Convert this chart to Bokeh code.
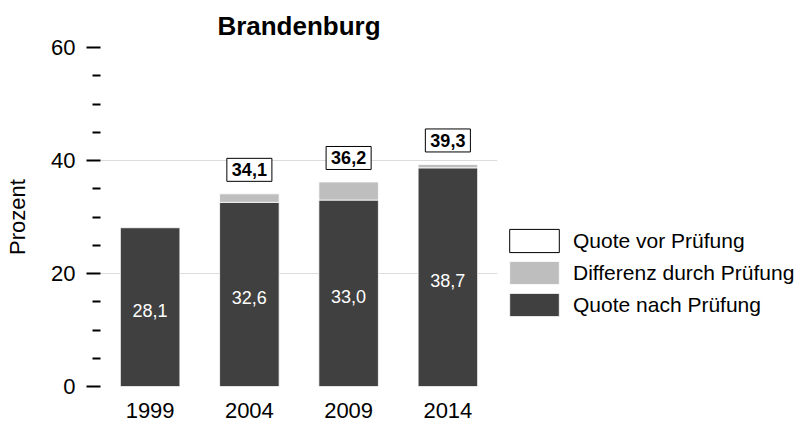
from bokeh.plotting import figure
from bokeh.models import (ColumnDataSource, LabelSet, Legend, LegendItem,
                          FixedTicker, Range1d, FactorRange)
from bokeh.core.properties import value
from bokeh.embed import file_html
from bokeh.resources import INLINE
import math

# ---- data ----
years = ["1999", "2004", "2009", "2014"]
quote_nach = [28.1, 32.6, 33.0, 38.7]          # Quote nach Prüfung
quote_vor = [float("nan"), 34.1, 36.2, 39.3]   # Quote vor Prüfung
y_major = [0, 20, 40, 60]
y_minor = [5, 10, 15, 25, 30, 35, 45, 50, 55]

DARK = "#404040"
GRAY = "#bebebe"
FONT = "Liberation Sans"

def fmt(v):
    return f"{v:.1f}".replace(".", ",")

src_nach = ColumnDataSource(dict(
    x=years, top=quote_nach,
    mid=[v / 2 for v in quote_nach],
    txt=[fmt(v) for v in quote_nach]))

idx = [i for i, v in enumerate(quote_vor) if not math.isnan(v)]
src_diff = ColumnDataSource(dict(
    x=[years[i] for i in idx],
    bottom=[quote_nach[i] for i in idx],
    top=[quote_vor[i] for i in idx],
    txt=[fmt(quote_vor[i]) for i in idx]))

p = figure(x_range=FactorRange(*years), y_range=Range1d(0, 60),
           frame_width=397, frame_height=339,
           min_border_left=100, min_border_top=47, min_border_bottom=42,
           min_border_right=293,
           output_backend="svg", toolbar_location=None,
           title="Brandenburg")
p.outline_line_color = None
p.background_fill_color = "white"
p.border_fill_color = "white"

p.title.text_font = FONT
p.title.text_font_size = "26px"
p.title.text_font_style = "bold"
p.title.align = "center"
p.title.text_color = "black"
p.title.standoff = 13

r_nach = p.vbar(x="x", top="top", bottom=0, width=0.6, source=src_nach,
                fill_color=DARK, line_color="white", line_width=0.8)
r_diff = p.vbar(x="x", top="top", bottom="bottom", width=0.6, source=src_diff,
                fill_color=GRAY, line_color="white", line_width=0.8)
# legend swatch for "Quote vor Prüfung" (white box, black border); not drawn in plot
r_vor = p.vbar(x="x", top="top", bottom="bottom", width=0.6, source=src_diff,
               fill_color="white", line_color="black", line_width=1,
               visible=False)

inner = LabelSet(x="x", y="mid", text="txt", source=src_nach,
                 text_align="center", text_baseline="middle", y_offset=-3,
                 text_color="white", text_font=value(FONT),
                 text_font_size="18px")
p.add_layout(inner)

p.text(x="x", y="top", text="txt", source=src_diff,
       text_align="center", text_baseline="middle", y_offset=-24,
       text_color="black", text_font=value(FONT), text_font_size="18px",
       text_font_style="bold",
       border_line_color="black", border_line_width=1,
       background_fill_color="white",
       padding=dict(left=5, right=5, top=5, bottom=5))

# axes
yax = p.yaxis[0]
yax.ticker = FixedTicker(ticks=y_major, minor_ticks=y_minor)
yax.axis_line_color = None
yax.major_tick_out = 14
yax.major_tick_in = 0
yax.minor_tick_out = 8
yax.minor_tick_in = 0
yax.major_tick_line_width = 2
yax.minor_tick_line_width = 2
yax.major_tick_line_color = "black"
yax.minor_tick_line_color = "black"
yax.major_label_text_font = FONT
yax.major_label_text_font_size = "22px"
yax.major_label_text_color = "black"
yax.major_label_standoff = 11
yax.axis_label = "Prozent"
yax.axis_label_text_font = FONT
yax.axis_label_text_font_size = "22px"
yax.axis_label_text_font_style = "normal"
yax.axis_label_text_color = "black"
yax.axis_label_standoff = 18

xax = p.xaxis[0]
xax.axis_line_color = None
xax.major_tick_line_color = None
xax.major_tick_out = 0
xax.major_tick_in = 0
xax.major_label_text_font = FONT
xax.major_label_text_font_size = "22px"
xax.major_label_text_color = "black"
xax.major_label_standoff = 16

p.xgrid.grid_line_color = None
p.ygrid.ticker = FixedTicker(ticks=[20, 40, 60])
p.ygrid.grid_line_color = "#dcdcdc"
p.ygrid.grid_line_width = 1

legend = Legend(items=[
    LegendItem(label="Quote vor Prüfung", renderers=[r_vor]),
    LegendItem(label="Differenz durch Prüfung", renderers=[r_diff]),
    LegendItem(label="Quote nach Prüfung", renderers=[r_nach]),
], location=(6, 67))
legend.glyph_width = 62
legend.glyph_height = 29
legend.spacing = 3
legend.label_standoff = 8
legend.label_text_font = FONT
legend.label_text_font_size = "21px"
legend.label_text_color = "black"
legend.label_text_baseline = "middle"
legend.padding = 0
legend.margin = 0
legend.border_line_color = None
legend.background_fill_alpha = 0
legend.inactive_fill_alpha = 0
p.add_layout(legend, "right")

open("out.html", "w").write(file_html(p, INLINE))
